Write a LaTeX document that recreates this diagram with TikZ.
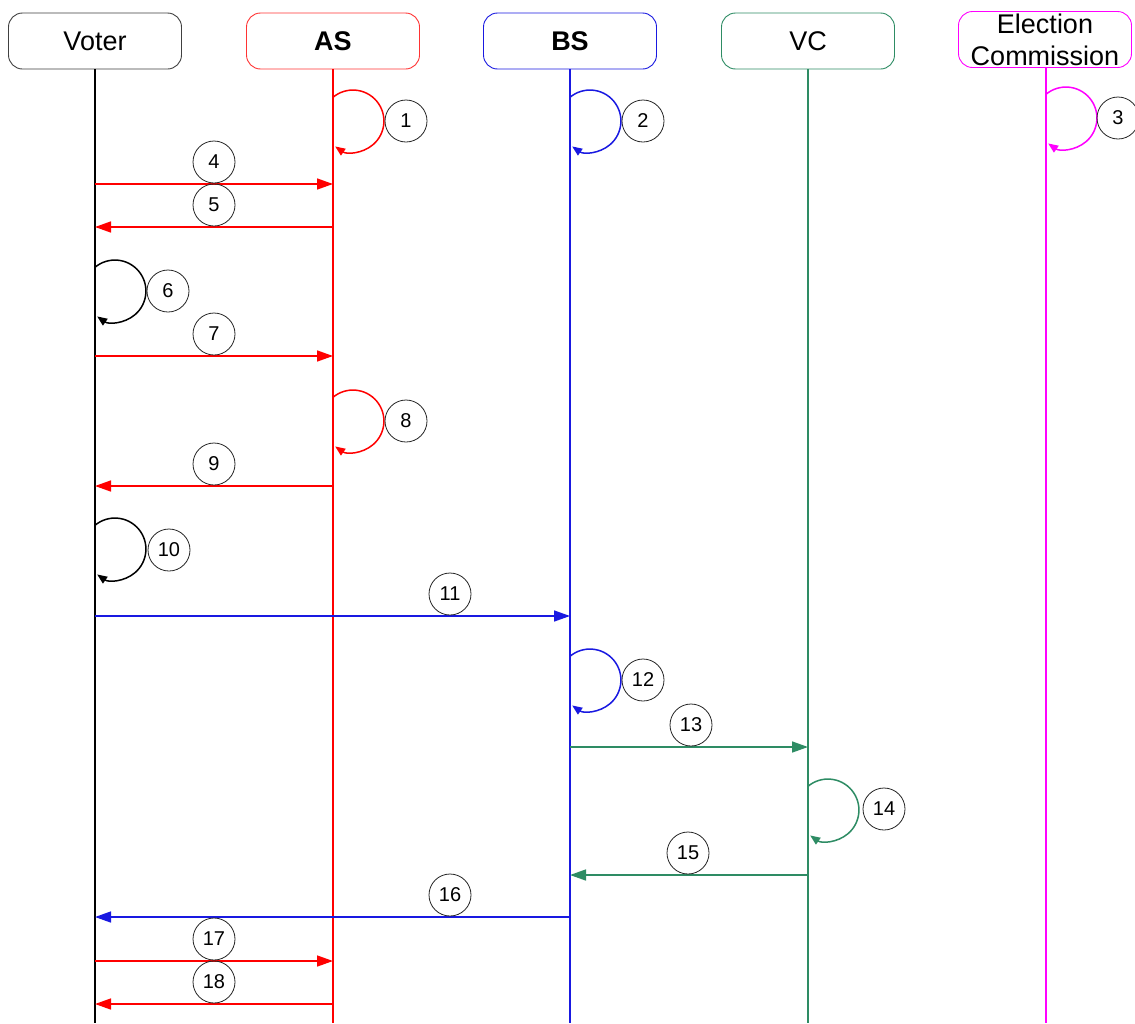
\documentclass[tikz,border=0pt]{standalone}
\usepackage{fontspec}
\setmainfont{Liberation Sans}
\usetikzlibrary{arrows.meta}
\definecolor{asred}{RGB}{255,0,0}
\definecolor{bsblue}{RGB}{25,25,225}
\definecolor{vcgreen}{RGB}{46,140,100}
\definecolor{ecmag}{RGB}{255,0,255}
\begin{document}
\begin{tikzpicture}[x=1pt,y=1pt,
  head/.style={draw, rounded corners=14pt, minimum width=173pt, minimum height=56pt,
    inner sep=0pt, font=\fontsize{27}{32}\selectfont, line width=0.9pt, align=center},
  life/.style={line width=1.6pt},
  msg/.style={line width=1.5pt, -{Triangle[length=16pt,width=11pt]}},
  selfmsg/.style={line width=1.5pt, -{Triangle[length=10pt,width=8pt]}},
  num/.style={draw=black!85, circle, minimum size=42pt, inner sep=0pt,
    font=\fontsize{20}{20}\selectfont, line width=0.8pt}]
\useasboundingbox (0,0) rectangle (1135,-1023);
\fill[white] (0,0) rectangle (1135,-1023);

% heads
\node[head,draw=black!75] (voter) at (95,-41) {Voter};
\node[head,draw=asred!80] (as) at (333,-41) {\bfseries AS};
\node[head,draw=bsblue] (bs) at (570,-41) {\bfseries BS};
\node[head,draw=vcgreen] (vc) at (808,-41) {VC};
\node[head,draw=ecmag] (ec) at (1045,-39.5) {Election\\Commission};

% lifeline ends
\coordinate (voterE) at (95,-1023);
\coordinate (asE) at (333,-1023);
\coordinate (bsE) at (570,-1023);
\coordinate (vcE) at (808,-1023);
\coordinate (ecE) at (1046,-1023);
\draw[life,black] (voter.south) -- (voterE);
\draw[life,asred] (as.south) -- (asE);
\draw[life,bsblue] (bs.south) -- (bsE);
\draw[life,vcgreen] (vc.south) -- (vcE);
\draw[life,ecmag] (ec.south -| ecE) -- (ecE);

% self loops
\coordinate (s1) at (333,{-(121-23.7)});
\draw[selfmsg,asred] (s1) arc[start angle=130,end angle=-125,radius=31];
\node[num] (n1) at (406,-121) {1};
\coordinate (s2) at (570,{-(121-23.7)});
\draw[selfmsg,bsblue] (s2) arc[start angle=130,end angle=-125,radius=31];
\node[num] (n2) at (643,-121) {2};
\coordinate (s3) at (1046,{-(118-23.7)});
\draw[selfmsg,ecmag] (s3) arc[start angle=130,end angle=-125,radius=31];
\node[num] (n3) at (1118,-118) {3};
\coordinate (s6) at (95,{-(291-23.7)});
\draw[selfmsg,black] (s6) arc[start angle=130,end angle=-125,radius=31];
\node[num] (n6) at (168,-291) {6};
\coordinate (s8) at (333,{-(421-23.7)});
\draw[selfmsg,asred] (s8) arc[start angle=130,end angle=-125,radius=31];
\node[num] (n8) at (406,-421) {8};
\coordinate (s10) at (95,{-(549-23.7)});
\draw[selfmsg,black] (s10) arc[start angle=130,end angle=-125,radius=31];
\node[num] (n10) at (169,-550) {10};
\coordinate (s12) at (570,{-(680-23.7)});
\draw[selfmsg,bsblue] (s12) arc[start angle=130,end angle=-125,radius=31];
\node[num] (n12) at (643,-680) {12};
\coordinate (s14) at (808,{-(810-23.7)});
\draw[selfmsg,vcgreen] (s14) arc[start angle=130,end angle=-125,radius=31];
\node[num] (n14) at (884,-809) {14};

% messages
\coordinate (v4) at (95,-184); \coordinate (a4) at (333,-184);
\draw[msg,asred] (v4) -- (a4);
\node[num] (n4) at (214,-162) {4};
\coordinate (v5) at (95,-227); \coordinate (a5) at (333,-227);
\draw[msg,asred] (a5) -- (v5);
\node[num] (n5) at (214,-205) {5};
\coordinate (v7) at (95,-356); \coordinate (a7) at (333,-356);
\draw[msg,asred] (v7) -- (a7);
\node[num] (n7) at (214,-334) {7};
\coordinate (v9) at (95,-486); \coordinate (a9) at (333,-486);
\draw[msg,asred] (a9) -- (v9);
\node[num] (n9) at (214,-464) {9};
\coordinate (v11) at (95,-616); \coordinate (b11) at (570,-616);
\draw[msg,bsblue] (v11) -- (b11);
\node[num] (n11) at (450,-594) {11};
\coordinate (b13) at (570,-747); \coordinate (c13) at (808,-747);
\draw[msg,vcgreen] (b13) -- (c13);
\node[num] (n13) at (691,-725) {13};
\coordinate (b15) at (570,-875); \coordinate (c15) at (808,-875);
\draw[msg,vcgreen] (c15) -- (b15);
\node[num] (n15) at (688,-853) {15};
\coordinate (v16) at (95,-917); \coordinate (b16) at (570,-917);
\draw[msg,bsblue] (b16) -- (v16);
\node[num] (n16) at (450,-895) {16};
\coordinate (v17) at (95,-961); \coordinate (a17) at (333,-961);
\draw[msg,asred] (v17) -- (a17);
\node[num] (n17) at (214,-939) {17};
\coordinate (v18) at (95,-1004); \coordinate (a18) at (333,-1004);
\draw[msg,asred] (a18) -- (v18);
\node[num] (n18) at (214,-982) {18};
\end{tikzpicture}
\end{document}
